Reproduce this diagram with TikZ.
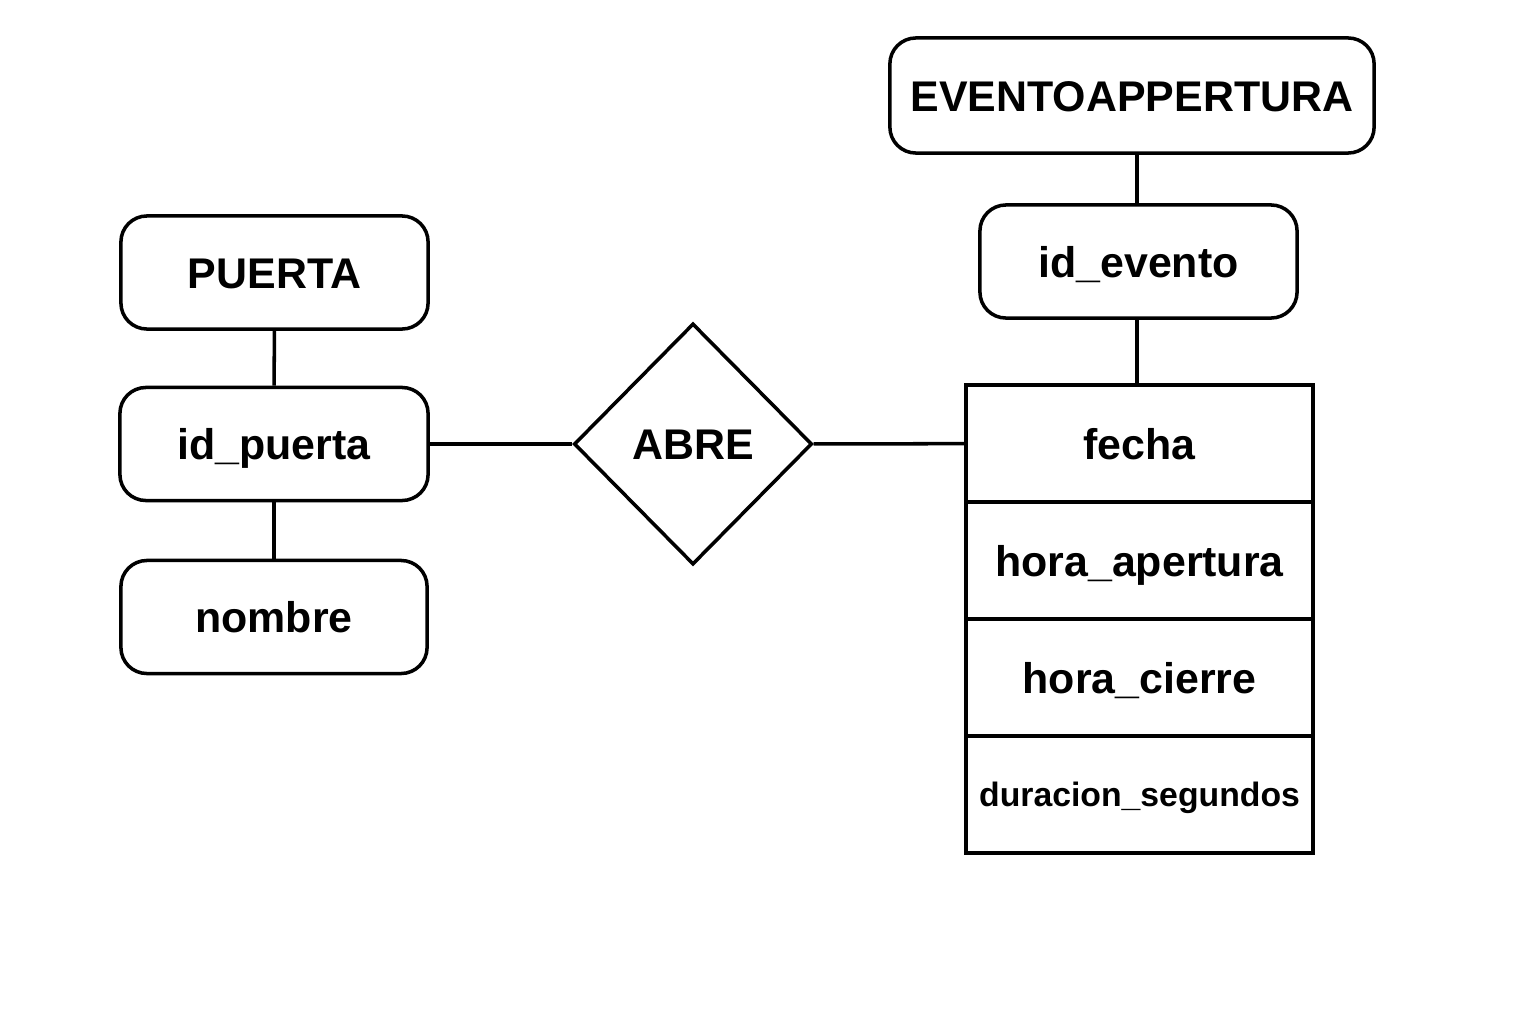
\documentclass[tikz,border=0pt]{standalone}
\usepackage{fontspec}
\setmainfont{Liberation Sans}
\usepackage{tikz}
\usetikzlibrary{shapes.geometric}

\tikzset{
  atributo/.style = {draw, line width=1pt, rounded corners=0.26cm, font=\fontsize{12.2}{14}\selectfont\bfseries, text height=0.31cm, text depth=0cm, minimum width=3.07cm, minimum height=1.13cm},
  relacion/.style = {draw, diamond, aspect=1, line width=1pt, inner sep=0pt, minimum width=2.38cm, minimum height=2.41cm, font=\fontsize{12.2}{14}\selectfont\bfseries, text height=0.31cm, text depth=0cm},
  celda/.style = {draw, line width=1pt, minimum width=3.47cm, minimum height=1.17cm, font=\fontsize{12.2}{14}\selectfont\bfseries, text height=0.31cm, text depth=0cm},
  enlace/.style = {line width=1pt}
}

\begin{document}
\begin{tikzpicture}[x=0.01cm, y=-0.01cm]
\useasboundingbox[fill=white] (0,0) rectangle (1536,1024);
% entidad PUERTA
\node[atributo] (puerta) at (274.5,272.5) {PUERTA};
\node[atributo, minimum width=3.08cm] (idpuerta) at (274,444) {id\_puerta};
\node[atributo, minimum width=3.06cm] (nombre) at (274,617) {nombre};
% relacion
\node[relacion] (abre) at (693,444) {ABRE};
% entidad EVENTOAPPERTURA
\node[atributo, minimum width=4.84cm, minimum height=1.15cm] (evento) at (1132,95.5) {EVENTOAPPERTURA};
\node[atributo, minimum width=3.17cm] (idevento) at (1138.5,261.5) {id\_evento};
\node[celda] (fecha) at (1139.5,443.5) {fecha};
\node[celda] (horaap) at (1139.5,560.5) {hora\_apertura};
\node[celda] (horaci) at (1139.5,677.5) {hora\_cierre};
\node[celda, font=\fontsize{9.6}{11}\selectfont\bfseries, text height=0.24cm] (duracion) at (1139.5,794.5) {duracion\_segundos};
% lineas
\draw[enlace] (puerta) -- (idpuerta);
\draw[enlace] (idpuerta) -- (nombre);
\draw[enlace] (idpuerta) -- (abre);
\draw[enlace] (abre) -- (fecha);
\draw[enlace] (idevento.north -| 1137,0) -- (evento.south -| 1137,0);
\draw[enlace] (idevento.south -| 1137,0) -- (fecha.north -| 1137,0);
\end{tikzpicture}
\end{document}
